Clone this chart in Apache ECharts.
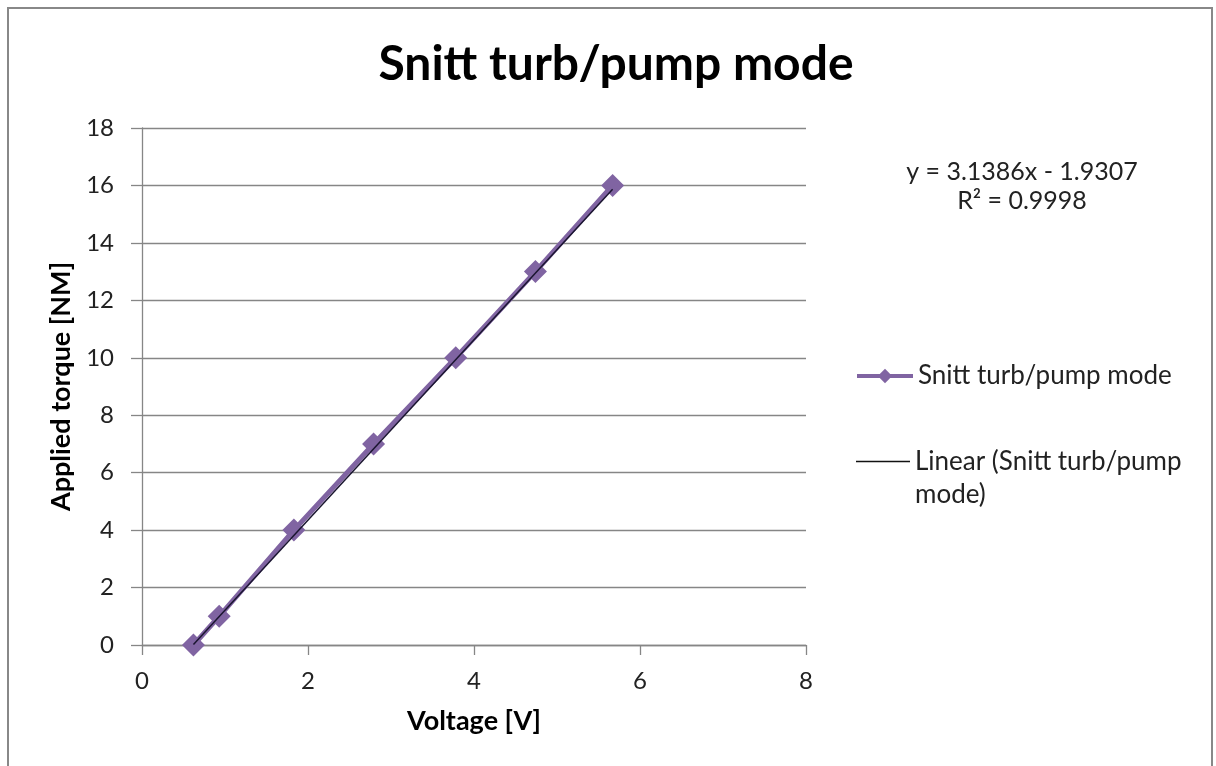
<!DOCTYPE html>
<html>
<head>
<meta charset="utf-8">
<title>Snitt turb/pump mode</title>
<script src="https://cdn.jsdelivr.net/npm/echarts@6/dist/echarts.min.js"></script>
<style>
  html, body { margin: 0; padding: 0; background: #ffffff; }
  #chart { width: 1216px; height: 766px; }
</style>
</head>
<body>
<div id="chart"></div>
<script>
// Measured points: voltage [V] against applied torque [NM]
const voltage = [0.62, 0.93, 1.83, 2.79, 3.78, 4.74, 5.67];
const torque = [0, 1, 4, 7, 10, 13, 16];

// Least-squares fit as reported on the chart
const slope = 3.1386;
const intercept = -1.9307;
const rSquared = '0.9998';

const xTicks = { min: 0, max: 8, step: 2 };
const yTicks = { min: 0, max: 18, step: 2 };

const seriesName = 'Snitt turb/pump mode';
const trendName = 'Linear (Snitt turb/pump mode)';

const FONT = 'Lato, "Open Sans", sans-serif';
const PURPLE = '#8064A2';
const AXIS_GREY = '#868686';

const points = voltage.map((v, i) => [v, torque[i]]);
const xMin = Math.min(...voltage);
const xMax = Math.max(...voltage);
const trend = [[xMin, slope * xMin + intercept], [xMax, slope * xMax + intercept]];

const chart = echarts.init(document.getElementById('chart'), null, { renderer: 'canvas' });

chart.setOption({
  backgroundColor: '#ffffff',
  animation: false,
  title: {
    text: seriesName,
    left: 611,
    textAlign: 'center',
    top: 36,
    textStyle: { fontFamily: FONT, fontSize: 48, fontWeight: 'bold', color: '#000' }
  },
  grid: { left: 142, right: 410, top: 128, bottom: 121, containLabel: false },
  xAxis: {
    type: 'value',
    min: xTicks.min, max: xTicks.max, interval: xTicks.step,
    name: 'Voltage [V]',
    nameLocation: 'middle',
    nameGap: 63,
    nameTextStyle: { fontFamily: FONT, fontSize: 27, fontWeight: 'bold', color: '#000' },
    axisLine: { show: true, onZero: false, lineStyle: { color: AXIS_GREY, width: 1.3 } },
    axisTick: { show: true, inside: false, length: 10, lineStyle: { color: AXIS_GREY, width: 1.3 } },
    axisLabel: { margin: 24, fontFamily: FONT, fontSize: 24, color: '#222' },
    splitLine: { show: false }
  },
  yAxis: {
    type: 'value',
    min: yTicks.min, max: yTicks.max, interval: yTicks.step,
    name: 'Applied torque [NM]',
    nameLocation: 'middle',
    nameGap: 59,
    nameTextStyle: { fontFamily: FONT, fontSize: 27, fontWeight: 'bold', color: '#000' },
    axisLine: { show: true, lineStyle: { color: AXIS_GREY, width: 1.3 } },
    axisTick: { show: true, inside: false, length: 11, lineStyle: { color: AXIS_GREY, width: 1.3 } },
    axisLabel: { margin: 28, fontFamily: FONT, fontSize: 24, color: '#222' },
    splitLine: { show: true, lineStyle: { color: AXIS_GREY, width: 1.3 } }
  },
  legend: [
    {
      data: [seriesName],
      orient: 'vertical',
      left: 855,
      top: 363,
      padding: 0,
      itemWidth: 56,
      itemHeight: 18,
      itemGap: 0,
      lineStyle: { width: 4 },
      textStyle: { fontFamily: FONT, fontSize: 26, color: '#222' }
    },
    {
      data: [{ name: trendName, icon: 'rect', itemStyle: { color: '#111' } }],
      orient: 'vertical',
      left: 856,
      top: 412,
      padding: 0,
      itemWidth: 54,
      itemHeight: 1.5,
      // leading blank line keeps the first text line level with the key line
      formatter: () => ' \nLinear (Snitt turb/pump\nmode)',
      textStyle: { fontFamily: FONT, fontSize: 26, color: '#222', lineHeight: 33 }
    }
  ],
  graphic: [
    {
      type: 'rect',
      shape: { x: 8, y: 8, width: 1204, height: 800 },
      style: { fill: null, stroke: '#888888', lineWidth: 2 },
      silent: true
    },
    {
      type: 'text',
      x: 1022, y: 172,
      style: {
        text: 'y = ' + slope + 'x - ' + Math.abs(intercept),
        fontFamily: FONT, fontSize: 25, fill: '#222',
        align: 'center', verticalAlign: 'middle'
      }
    },
    {
      type: 'text',
      x: 1022, y: 201,
      style: {
        text: 'R² = ' + rSquared,
        fontFamily: FONT, fontSize: 25, fill: '#222',
        align: 'center', verticalAlign: 'middle'
      }
    }
  ],
  series: [
    {
      name: seriesName,
      type: 'line',
      data: points,
      color: PURPLE,
      symbol: 'diamond',
      symbolSize: 23,
      showAllSymbol: true,
      lineStyle: { color: PURPLE, width: 5 },
      itemStyle: { color: PURPLE },
      z: 2
    },
    {
      name: trendName,
      type: 'line',
      data: trend,
      color: '#111',
      symbol: 'none',
      lineStyle: { color: '#1a1530', width: 1.5 },
      z: 3
    }
  ]
});
</script>
</body>
</html>
